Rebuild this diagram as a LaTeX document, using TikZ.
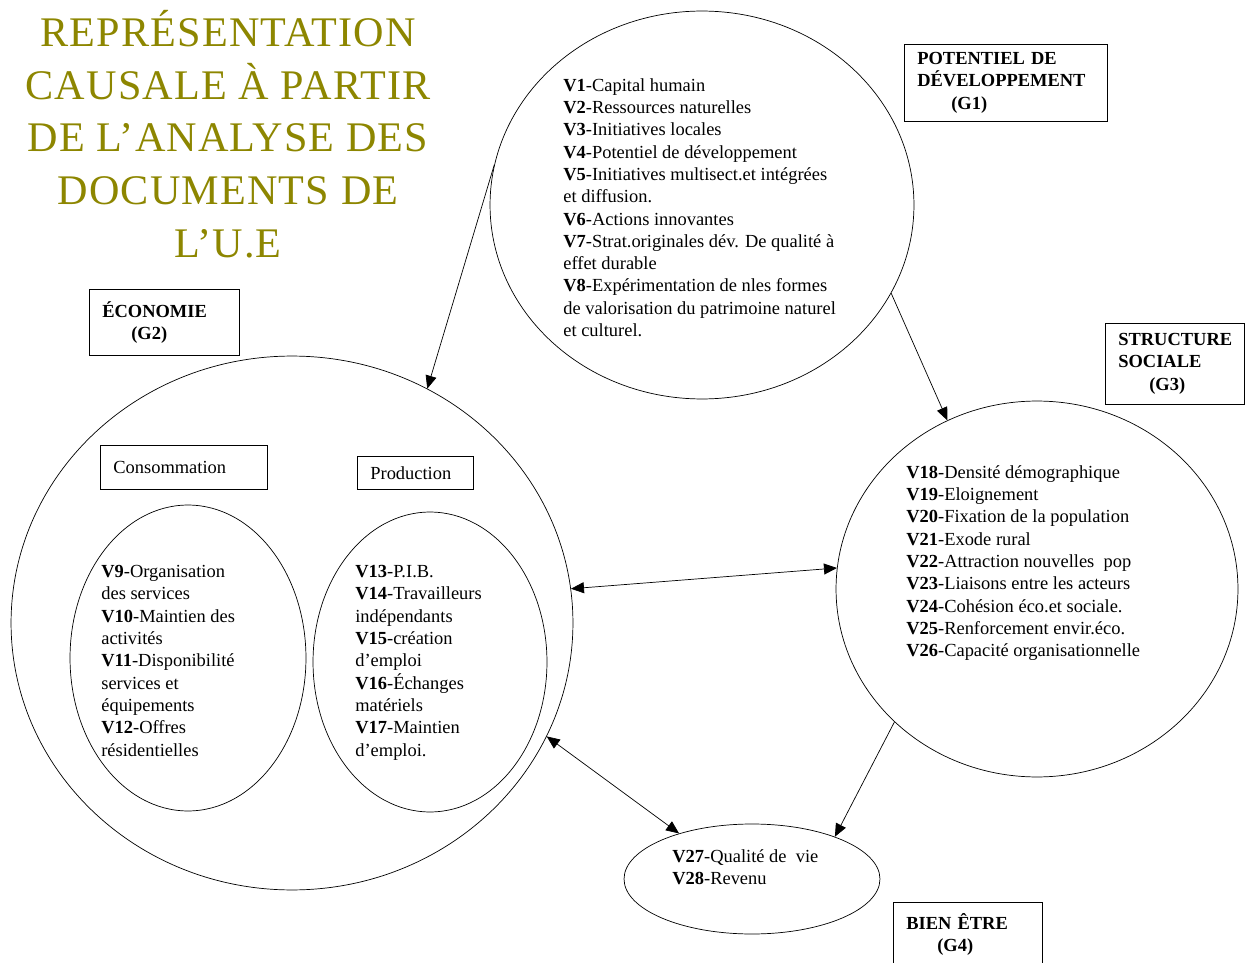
\documentclass[tikz,border=0pt]{standalone}
\usepackage{fontspec}
\setmainfont{Liberation Serif}
\usetikzlibrary{arrows.meta,shapes.geometric}
\hyphenpenalty=10000
\exhyphenpenalty=10000
\tikzset{
  grp/.style={ellipse,draw,inner sep=0pt},
  grpbox/.style={draw,rectangle,anchor=north west,align=left,inner ysep=0pt,inner xsep=0.26cm,
    font=\fontsize{10.5}{12.7}\selectfont\bfseries},
  subbox/.style={draw,rectangle,anchor=north west,align=left,inner ysep=0pt,inner xsep=0.26cm,
    font=\fontsize{10.5}{12.7}\selectfont},
  vlist/.style={anchor=north west,align=left,inner sep=0pt,font=\fontsize{10.5}{12.7}\selectfont},
  titre/.style={align=center,inner sep=0pt,text=olive,
    font=\fontsize{24}{30}\selectfont\addfontfeature{LetterSpace=2.8}},
}
\begin{document}
\begin{tikzpicture}[x=0.02cm,y=-0.02cm,>={Triangle[length=0.26cm,width=0.22cm]}]
\useasboundingbox (0,0) rectangle (1245,963);
\node[titre] (titre) at (228,134) {REPRÉSENTATION\\CAUSALE À PARTIR\\DE L’ANALYSE DES\\DOCUMENTS DE\\L’U.E};

\node[grp,minimum width=8.48cm,minimum height=7.76cm] (g1) at (702,205) {};
\node[grp,minimum width=11.24cm,minimum height=10.68cm] (g2) at (292,623) {};
\node[grp,minimum width=8.04cm,minimum height=7.52cm] (g3) at (1037,589) {};
\node[grp,minimum width=5.12cm,minimum height=2.2cm] (g4) at (752,879) {};
\node[grp,minimum width=4.72cm,minimum height=6.12cm] (cons) at (188,658) {};
\node[grp,minimum width=4.68cm,minimum height=6.0cm] (prod) at (430,662) {};

\node[grpbox,text width=3.54cm,minimum height=1.54cm] (g1box) at (904,44)
  {POTENTIEL DE\\DÉVELOPPEMENT\\\hspace*{0.68cm}(G1)};
\node[grpbox,text width=2.48cm,minimum height=1.32cm] (g2box) at (89,289)
  {ÉCONOMIE\\\hspace*{0.58cm}(G2)};
\node[grpbox,text width=2.26cm,minimum height=1.62cm] (g3box) at (1105,323)
  {STRUCTURE\\SOCIALE\\\hspace*{0.62cm}(G3)};
\node[grpbox,text width=2.46cm,minimum height=1.28cm] (g4box) at (893,902)
  {BIEN ÊTRE\\\hspace*{0.62cm}(G4)};
\node[subbox,text width=2.82cm,minimum height=0.88cm] (consbox) at (100,445) {Consommation};
\node[subbox,text width=1.8cm,minimum height=0.66cm] (prodbox) at (357,456) {Production};

\node[vlist] (g1txt) at (563,78) {\textbf{V1}-Capital humain\\
  \textbf{V2}-Ressources naturelles\\
  \textbf{V3}-Initiatives locales\\
  \textbf{V4}-Potentiel de développement\\
  \textbf{V5}-Initiatives multisect.et intégrées\\
  et diffusion.\\
  \textbf{V6}-Actions innovantes\\
  \textbf{V7}-Strat.originales dév. De qualité à\\
  effet durable\\
  \textbf{V8}-Expérimentation de nles formes\\
  de valorisation du patrimoine naturel\\
  et culturel.};
\node[vlist] (g3txt) at (906,465) {\textbf{V18}-Densité démographique\\
  \textbf{V19}-Eloignement\\
  \textbf{V20}-Fixation de la population\\
  \textbf{V21}-Exode rural\\
  \textbf{V22}-Attraction nouvelles~ pop\\
  \textbf{V23}-Liaisons entre les acteurs\\
  \textbf{V24}-Cohésion éco.et sociale.\\
  \textbf{V25}-Renforcement envir.éco.\\
  \textbf{V26}-Capacité organisationnelle};
\node[vlist] (constxt) at (101,565) {\textbf{V9}-Organisation\\
  des services\\
  \textbf{V10}-Maintien des\\
  activités\\
  \textbf{V11}-Disponibilité\\
  services et\\
  équipements\\
  \textbf{V12}-Offres\\
  résidentielles};
\node[vlist] (prodtxt) at (355,565) {\textbf{V13}-P.I.B.\\
  \textbf{V14}-Travailleurs\\
  indépendants\\
  \textbf{V15}-création\\
  d’emploi\\
  \textbf{V16}-Échanges\\
  matériels\\
  \textbf{V17}-Maintien\\
  d’emploi.};
\node[vlist] (g4txt) at (672,849) {\textbf{V27}-Qualité de~ vie\\
  \textbf{V28}-Revenu};

\draw[->] (g1.169) -- (g2.60);
\draw[->] (g1.-25) -- (g3.118);
\draw[<->] (g2.7) -- (g3.174);
\draw[<->] (g2.-24) -- (g4.148);
\draw[->] (g3.-137) -- (g4.27);
\end{tikzpicture}
\end{document}
